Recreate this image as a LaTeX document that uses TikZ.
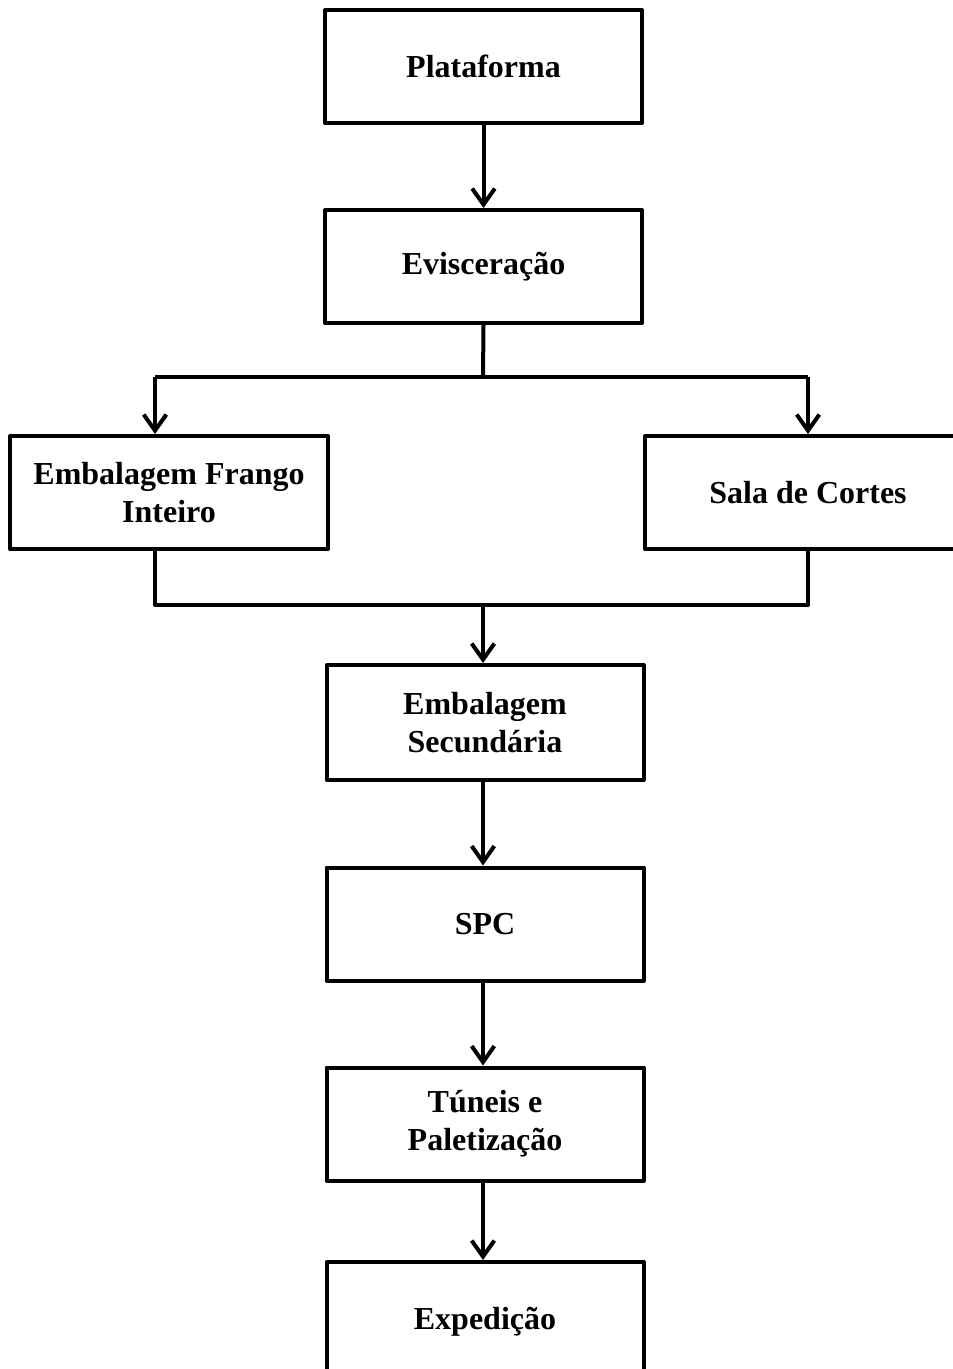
\documentclass[tikz,border=0pt]{standalone}
\usepackage{fontspec}
\setmainfont{Liberation Serif}
\usetikzlibrary{arrows.meta}

\begin{document}
\begin{tikzpicture}[x=0.75pt, y=-0.75pt, line join=round,
  etapa/.style={draw, line width=3pt, minimum width=237.75pt, minimum height=84.75pt,
    align=center, inner sep=0pt, font=\bfseries\fontsize{24}{28.5}\selectfont},
  linha/.style={line width=3pt},
  fluxo/.style={line width=3pt, -{Straight Barb[length=12pt,width=17pt,line width=3pt]}}]
\useasboundingbox (0,0) rectangle (952,1369);

\node [etapa] (plat) at (483.5,66.5) {Plataforma};
\node [etapa] (evis) at (483.5,266.5) {Evisceração};
\node [etapa, minimum width=238.5pt] (inteiro) at (169,492.5) {Embalagem Frango\\Inteiro};
\node [etapa, minimum width=244.5pt] (cortes) at (808,492.5) {Sala de Cortes};
\node [etapa, minimum height=86.25pt] (sec) at (485,722.5) {Embalagem\\Secundária};
\node [etapa] (spc) at (485,924) {SPC};
\node [etapa] (tun) at (485,1124) {Túneis e\\Paletização};
\node [etapa, minimum height=90pt] (exp) at (485,1322) {Expedição};

\coordinate (split) at (483,377);
\coordinate (splitL) at (155,377);
\coordinate (splitR) at (808,377);
\coordinate (joinL) at (155,605);
\coordinate (joinR) at (808,605);
\coordinate (join) at (483,605);

% ramificacao
\draw [linha] (evis.south) -- (split);
\draw [linha] (splitL) -- (splitR);
\draw [fluxo] (splitL) -- (splitL |- inteiro.north);
\draw [fluxo] (splitR) -- (cortes.north);

% juncao
\draw [linha] (joinL |- inteiro.south) -- (joinL) -- (joinR) -- (cortes.south);
\draw [fluxo] (join) -- (join |- sec.north);

\draw [fluxo] (plat) -- (evis);
\draw [fluxo] (sec.south -| join) -- (join |- spc.north);
\draw [fluxo] (spc.south -| join) -- (join |- tun.north);
\draw [fluxo] (tun.south -| join) -- (join |- exp.north);

\end{tikzpicture}
\end{document}
